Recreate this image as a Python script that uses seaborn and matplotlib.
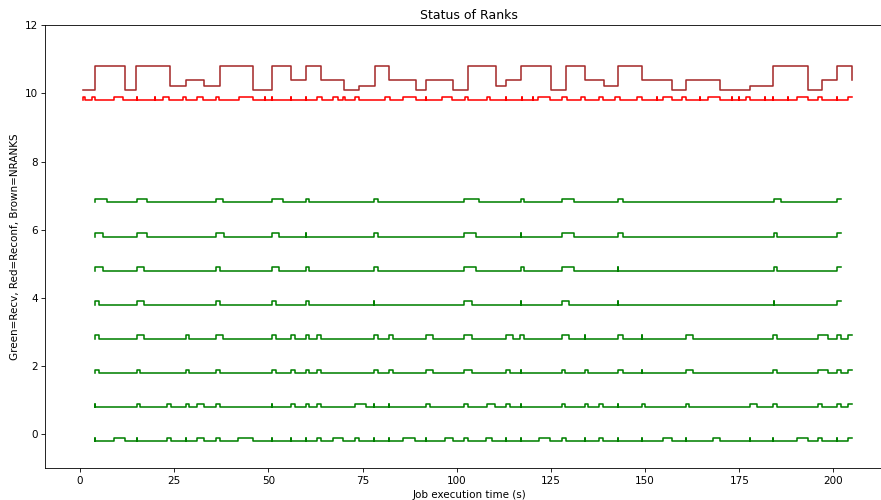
import matplotlib
matplotlib.use("Agg")
import matplotlib.pyplot as plt
import seaborn as sns
import pandas as pd

# NRANKS changes over time (brown line is drawn at 10 + nranks/10)
nranks_times = [0.88, 3.98, 11.95, 14.87, 23.89, 28.05, 33.0, 37.17, 46.01, 50.88,
                55.93, 59.91, 63.98, 70.08, 74.15, 78.31, 82.12, 89.11, 91.85, 99.11,
                103.09, 110.34, 113.0, 117.07, 124.95, 129.02, 134.06, 139.1, 142.9, 149.1,
                157.07, 160.87, 169.9, 177.86, 184.05, 193.17, 196.89, 201.04, 205.03]
nranks_values = [1, 8, 1, 8, 2, 4, 2, 8, 1, 8,
                 4, 8, 4, 1, 2, 8, 4, 1, 4, 1,
                 8, 2, 4, 8, 1, 8, 4, 2, 8, 4,
                 1, 4, 1, 2, 8, 1, 4, 8, 4]

# reconfiguration pulses (start, stop)
reconf_pulses = [(0.88, 1.33), (3.1, 3.98), (9.03, 11.5), (15.04, 15.04), (19.9, 19.9),
                 (21.94, 23.7), (27.2, 28.1), (30.97, 32.7), (36.0, 36.9), (42.2, 46.0),
                 (49.1, 49.1), (50.88, 50.88), (55.93, 55.93), (59.91, 59.91), (63.0, 64.15),
                 (67.25, 68.5), (69.9, 70.3), (73.0, 74.15), (81.0, 82.3), (85.8, 89.2),
                 (91.85, 91.85), (96.0, 98.66), (102.2, 103.1), (107.96, 108.84), (113.0, 113.0),
                 (117.25, 117.25), (120.17, 120.17), (121.67, 124.77), (127.86, 129.2),
                 (132.9, 134.06), (137.86, 138.93), (142.0, 143.35), (147.8, 149.1),
                 (153.1, 153.1), (154.85, 157.07), (159.7, 160.87), (164.6, 164.6),
                 (166.8, 169.9), (173.0, 173.0), (174.8, 174.8), (176.8, 177.86),
                 (181.84, 181.84), (184.05, 184.05), (188.0, 188.0), (190.25, 193.17),
                 (196.0, 196.89), (201.04, 201.04)]
reconf_span = (0.88, 203.96, 205.03)  # start, last rise, end

# receive pulses for each rank
recv_rank0 = [(3.98, 3.98), (9.03, 11.95), (15.04, 15.04), (23.0, 24.07), (28.05, 28.05),
              (30.97, 32.92), (36.1, 37.17), (42.03, 46.01), (50.88, 50.88), (55.93, 55.93),
              (59.91, 59.91), (63.0, 63.98), (67.07, 69.9), (73.0, 74.15), (78.14, 78.14),
              (82.03, 82.03), (85.83, 88.93), (91.85, 91.85), (96.9, 99.1), (101.94, 103.09),
              (107.78, 109.28), (113.09, 113.09), (117.07, 117.07), (121.94, 124.77),
              (127.86, 129.02), (134.06, 134.06), (137.86, 138.93), (142.9, 142.9),
              (149.1, 149.1), (154.85, 157.07), (160.87, 160.87), (168.13, 169.9),
              (177.86, 177.86), (184.05, 184.05), (190.25, 193.35), (196.0, 196.89),
              (200.87, 200.87)]
recv_rank1 = [(3.98, 3.98), (15.04, 15.93), (23.0, 24.07), (28.05, 29.02), (30.97, 32.92),
              (36.1, 37.17), (50.88, 50.88), (55.93, 57.07), (59.91, 60.88), (63.0, 63.98),
              (73.0, 75.92), (78.14, 78.14), (82.03, 82.03), (91.85, 92.91), (101.94, 103.09),
              (107.96, 110.17), (113.09, 114.15), (117.07, 117.07), (127.86, 128.75),
              (134.06, 134.94), (137.86, 138.93), (142.9, 142.9), (149.1, 149.99),
              (160.87, 161.76), (177.86, 179.8), (184.05, 185.12), (196.0, 196.89),
              (200.87, 201.93)]
recv_rank2 = [(3.98, 5.13), (15.04, 15.93), (28.05, 29.02), (36.1, 37.17), (50.88, 52.03),
              (55.93, 57.07), (59.91, 60.88), (63.0, 63.98), (78.14, 79.2), (82.03, 83.0),
              (91.85, 93.8), (101.94, 103.97), (113.09, 114.15), (117.07, 117.07),
              (127.86, 128.75), (134.06, 134.94), (142.9, 144.06), (149.1, 149.1),
              (160.87, 162.8), (184.05, 185.12), (196.0, 198.65), (200.87, 201.93)]
recv_rank3 = [(3.98, 5.13), (15.04, 16.99), (28.05, 29.02), (36.1, 38.05), (50.88, 52.03),
              (55.93, 57.07), (59.91, 60.88), (63.0, 63.98), (78.14, 79.2), (82.03, 83.0),
              (91.85, 93.8), (101.94, 103.97), (113.09, 115.03), (116.8, 117.87),
              (127.86, 129.9), (134.06, 134.06), (142.9, 144.06), (149.1, 149.1),
              (160.87, 162.8), (184.05, 185.12), (196.0, 198.65), (200.87, 201.93)]
recv_rank4 = [(3.98, 5.1), (15.0, 17.0), (36.1, 37.2), (50.9, 52.0), (59.9, 60.9),
              (78.1, 78.1), (101.9, 104.0), (117.1, 117.1), (127.9, 129.9), (142.9, 142.9),
              (184.1, 184.1)]
recv_rank5 = [(3.98, 6.0), (15.0, 17.0), (36.1, 37.2), (50.9, 52.9), (59.9, 60.9),
              (78.1, 79.2), (101.9, 105.1), (117.1, 117.9), (127.9, 131.0), (142.9, 142.9),
              (184.1, 185.1)]
recv_rank6 = [(3.98, 6.2), (15.0, 17.9), (36.1, 38.1), (50.9, 52.9), (59.9, 59.9),
              (78.1, 79.2), (101.9, 105.1), (117.1, 117.1), (127.9, 131.0), (142.9, 144.1),
              (184.1, 185.1)]
recv_rank7 = [(3.98, 7.08), (15.0, 17.9), (36.1, 37.9), (50.9, 54.0), (59.9, 60.9),
              (78.1, 79.2), (101.9, 106.0), (117.1, 117.9), (127.9, 131.0), (142.9, 144.1),
              (184.1, 186.1)]
recv_pulses = [recv_rank0, recv_rank1, recv_rank2, recv_rank3,
               recv_rank4, recv_rank5, recv_rank6, recv_rank7]
recv_spans = [(3.98, 203.96, 205.03)] * 4 + [(3.98, 200.9, 201.9)] * 4


def pulse_steps(pulses, span, base, top):
    start, last_rise, end = span
    xs, ys = [start], [base]
    for on, off in pulses:
        xs += [on, off]
        ys += [top, base]
    xs += [last_rise, end]
    ys += [top, top]
    return pd.DataFrame({"time": xs, "level": ys})


# original was rendered larger and shrunk, so use a 75 dpi canvas
fig = plt.figure(figsize=(881 / 75, 500 / 75), dpi=75)
ax = fig.add_axes([45 / 881, 31.6 / 500, 848 / 881, 443.3 / 500])

line_kws = dict(estimator=None, sort=False, drawstyle="steps-post", linewidth=1.5, ax=ax)

for rank, (pulses, span) in enumerate(zip(recv_pulses, recv_spans)):
    df = pulse_steps(pulses, span, rank - 0.2, rank - 0.1)
    sns.lineplot(data=df, x="time", y="level", color="green", **line_kws)

df = pulse_steps(reconf_pulses, reconf_span, 9.8, 9.9)
sns.lineplot(data=df, x="time", y="level", color="red", **line_kws)

brown = pd.DataFrame({"time": nranks_times,
                      "level": [10 + n / 10 for n in nranks_values]})
sns.lineplot(data=brown, x="time", y="level", color="brown", **line_kws)

ax.set_xlim(-9.3, 215.8)
ax.set_ylim(-1, 12)
ax.set_xticks([0, 25, 50, 75, 100, 125, 150, 175, 200])
ax.set_yticks([0, 2, 4, 6, 8, 10, 12])
ax.set_title("Status of Ranks")
ax.set_xlabel("Job execution time (s)")
ax.set_ylabel("Green=Recv, Red=Reconf, Brown=NRANKS")

fig.savefig("out.png", dpi=75)
